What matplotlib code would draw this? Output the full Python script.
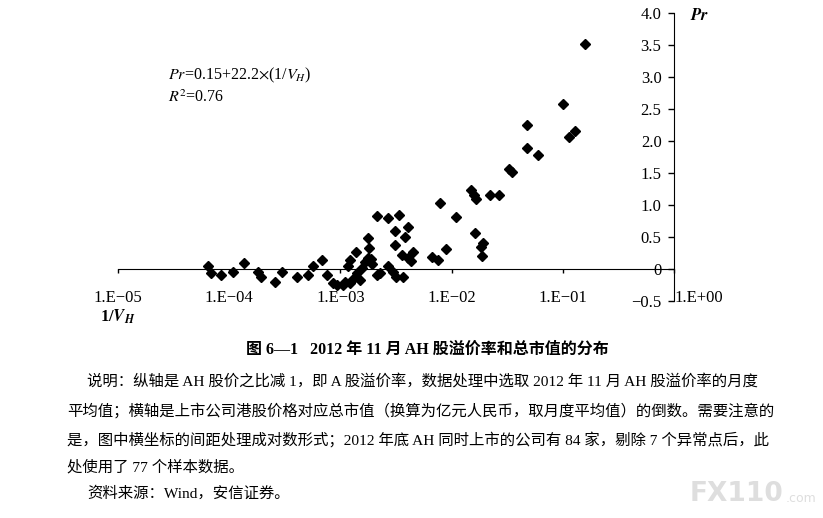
import matplotlib
matplotlib.use("Agg")
import matplotlib.pyplot as plt
from matplotlib.ticker import NullLocator

plt.rcParams['font.family'] = ['Liberation Serif', 'Noto Sans CJK SC']
plt.rcParams['mathtext.fontset'] = 'stix'

# 1/V_H (倒数) 和 AH 股溢价率 Pr
inv_vh = [6.44e-5, 6.85e-5, 8.43e-5, 1.08e-4, 1.36e-4, 1.82e-4, 1.93e-4, 2.58e-4,
          2.99e-4, 4.07e-4, 5.11e-4, 5.67e-4, 6.83e-4, 7.58e-4, 8.58e-4, 9.32e-4,
          1.05e-3, 1.10e-3, 1.17e-3, 1.22e-3, 1.22e-3, 1.30e-3, 1.38e-3, 1.41e-3,
          1.50e-3, 1.56e-3, 1.66e-3, 1.77e-3, 1.77e-3, 1.81e-3, 1.87e-3, 1.92e-3,
          2.13e-3, 2.13e-3, 2.27e-3, 2.68e-3, 2.68e-3, 2.97e-3, 3.10e-3, 3.10e-3,
          3.16e-3, 3.37e-3, 3.58e-3, 3.66e-3, 3.81e-3, 4.05e-3, 4.05e-3, 4.31e-3,
          4.50e-3, 6.66e-3, 7.55e-3, 7.87e-3, 8.91e-3, 1.10e-2, 1.49e-2, 1.59e-2,
          1.66e-2, 1.62e-2, 1.84e-2, 1.92e-2, 1.88e-2, 2.21e-2, 2.67e-2, 3.28e-2,
          3.49e-2, 4.76e-2, 4.76e-2, 5.98e-2, 1.00e-1, 1.14e-1, 1.29e-1, 1.58e-1]
premium = [0.05, -0.07, -0.10, -0.05, 0.09, -0.04, -0.12, -0.21,
           -0.05, -0.12, -0.09, 0.04, 0.14, -0.10, -0.22, -0.25,
           -0.25, -0.20, 0.04, 0.14, -0.22, -0.15, 0.27, -0.07,
           -0.17, 0.01, 0.11, 0.17, 0.48, 0.33, 0.15, 0.08,
           0.83, -0.09, -0.06, 0.79, 0.04, -0.04, 0.60, 0.38,
           -0.12, 0.85, 0.22, -0.12, 0.50, 0.66, 0.17, 0.13,
           0.27, 0.18, 0.14, 1.03, 0.31, 0.81, 1.23, 1.15,
           1.09, 0.57, 0.35, 0.40, 0.20, 1.16, 1.16, 1.57,
           1.51, 2.25, 1.89, 1.78, 2.58, 2.07, 2.16, 3.52]

x_ticks = [1e-5, 1e-4, 1e-3, 1e-2, 1e-1, 1e0]
x_labels = ['1.E\u221205', '1.E\u221204', '1.E\u221203', '1.E\u221202', '1.E\u221201', '1.E+00']
y_ticks = [-0.5, 0, 0.5, 1.0, 1.5, 2.0, 2.5, 3.0, 3.5, 4.0]
y_labels = ['\u22120.5', '0', '0.5', '1.0', '1.5', '2.0', '2.5', '3.0', '3.5', '4.0']

caption = '图 6—1   2012 年 11 月 AH 股溢价率和总市值的分布'
note_lines = [
    '说明：纵轴是 AH 股价之比减 1，即 A 股溢价率，数据处理中选取 2012 年 11 月 AH 股溢价率的月度',
    '平均值；横轴是上市公司港股价格对应总市值（换算为亿元人民币，取月度平均值）的倒数。需要注意的',
    '是，图中横坐标的间距处理成对数形式；2012 年底 AH 同时上市的公司有 84 家，剔除 7 个异常点后，此',
    '处使用了 77 个样本数据。',
]
source = '资料来源：Wind，安信证券。'

W, H = 823, 518


def fx(px):
    return px / W


def fy(py):
    return 1 - py / H


fig = plt.figure(figsize=(W / 100, H / 100), dpi=100)
ax = fig.add_axes([fx(118), fy(301), (674 - 118) / W, (301 - 13) / H])
ax.plot(inv_vh, premium, 'D', color='black', ms=5.6, clip_on=False)
ax.set_xscale('log')
ax.set_xlim(1e-5, 1)
ax.set_ylim(-0.5, 4.0)
ax.spines['top'].set_visible(False)
ax.spines['right'].set_visible(False)
ax.spines['bottom'].set_position(('data', 0))
ax.spines['left'].set_position(('axes', 1))
ax.set_xticks(x_ticks, x_labels)
ax.xaxis.set_minor_locator(NullLocator())
ax.set_yticks(y_ticks, y_labels)
ax.tick_params(axis='x', direction='out', length=3, width=1, pad=12, labelsize=12)
ax.tick_params(axis='y', direction='out', length=4, width=1, pad=5, labelsize=12)
ax.get_xticklabels()[-1].set_horizontalalignment('left')
ax.patch.set_visible(False)

fig.text(fx(690), fy(16), r'$\mathbfit{Pr}$', fontsize=12, va='center')
fig.text(fx(118), fy(317), r'1/$\mathbfit{V}_{\mathbfit{H}}$', fontsize=12,
         ha='center', va='center', fontweight='bold')
fig.text(fx(168), fy(75), r'$Pr$=0.15+22.2$\times$(1/$V_H$)', fontsize=11.5, va='center')
fig.text(fx(168), fy(98), r'$R^{\mathrm{2}}$=0.76', fontsize=11.5, va='center')

fig.text(fx(427), fy(350), caption, fontsize=11.5, fontweight='bold', ha='center', va='center')
note_y = [382, 411, 440, 467]
for i, line in enumerate(note_lines):
    x0 = 87 if i == 0 else 67
    fig.text(fx(x0), fy(note_y[i]), line, fontsize=11.1, fontweight='medium', va='center')
fig.text(fx(87), fy(494), source, fontsize=11.1, fontweight='medium', va='center')

fig.text(fx(690), fy(494), 'FX110', fontsize=19, color='#dedede', fontweight='bold',
         family='DejaVu Sans', va='center')
fig.text(fx(786), fy(499), '.com', fontsize=9, color='#dedede', family='DejaVu Sans', va='center')

fig.savefig('out.png', dpi=100)
